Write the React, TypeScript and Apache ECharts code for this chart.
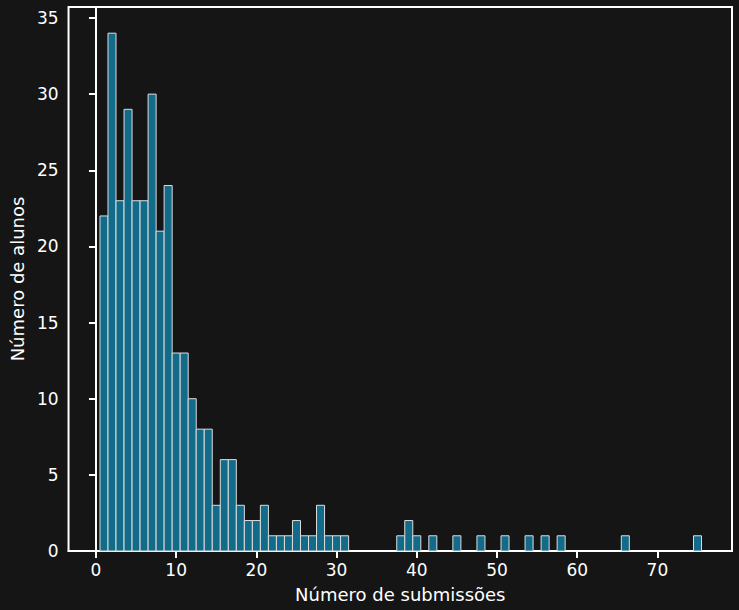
import React, { useEffect, useRef } from "react";
import * as echarts from "echarts";

const binCenters = [1,2,3,4,5,6,7,8,9,10,11,12,13,14,15,16,17,18,19,20,21,22,23,24,25,26,27,28,29,30,31,38,39,40,42,45,48,51,54,56,58,66,75];
const counts = [22,34,23,29,23,23,30,21,24,13,13,10,8,8,3,6,6,3,2,2,3,1,1,1,2,1,1,3,1,1,1,1,2,1,1,1,1,1,1,1,1,1,1];
const xTicks = [0,10,20,30,40,50,60,70];
const yTicks = [0,5,10,15,20,25,30,35];

export default function App() {
  const ref = useRef<HTMLDivElement>(null);
  useEffect(() => {
    document.body.style.margin = "0";
    document.body.style.background = "#151515";
    const chart = echarts.init(ref.current!, null, { renderer: "svg" });
    const font = "DejaVu Sans";
    chart.setOption({
      animation: false,
      backgroundColor: "#151515",
      textStyle: { fontFamily: font },
      grid: { left: 62, right: 7, top: 7, bottom: 59, show: true, borderColor: "#ffffff", borderWidth: 2, backgroundColor: "transparent" },
      xAxis: {
        type: "value", min: -3.42, max: 79.3,
        name: "Número de submissões", nameLocation: "middle", nameGap: 34,
        nameTextStyle: { color: "#fff", fontSize: 18, fontFamily: font },
        axisLine: { show: true, lineStyle: { color: "#fff", width: 2 } },
        axisTick: { show: true, length: 7, lineStyle: { color: "#fff", width: 2 }, customValues: xTicks },
        axisLabel: { color: "#fff", fontSize: 17, margin: 10, fontFamily: font, customValues: xTicks },
        splitLine: { show: false },
      },
      yAxis: {
        type: "value", min: 0, max: 35.72,
        name: "Número de alunos", nameLocation: "middle", nameGap: 40,
        nameTextStyle: { color: "#fff", fontSize: 18, fontFamily: font },
        axisLine: { show: true, lineStyle: { color: "#fff", width: 2 } },
        axisTick: { show: true, length: 7, lineStyle: { color: "#fff", width: 2 }, customValues: yTicks },
        axisLabel: { color: "#fff", fontSize: 17, margin: 10, fontFamily: font, customValues: yTicks },
        splitLine: { show: false },
      },
      series: [{
        type: "custom",
        data: binCenters.map((c, i) => [c, counts[i]]),
        renderItem: (params: any, api: any) => {
          const x = api.value(0), y = api.value(1);
          const p0 = api.coord([x - 0.5, 0]);
          const p1 = api.coord([x + 0.5, y]);
          return {
            type: "rect",
            shape: { x: p0[0], y: p1[1], width: p1[0] - p0[0], height: p0[1] - p1[1] },
            style: { fill: "#136b8a", stroke: "#dddddd", lineWidth: 1 },
          };
        },
      }],
    });
    return () => chart.dispose();
  }, []);
  return <div ref={ref} style={{ width: 739, height: 610 }} />;
}
